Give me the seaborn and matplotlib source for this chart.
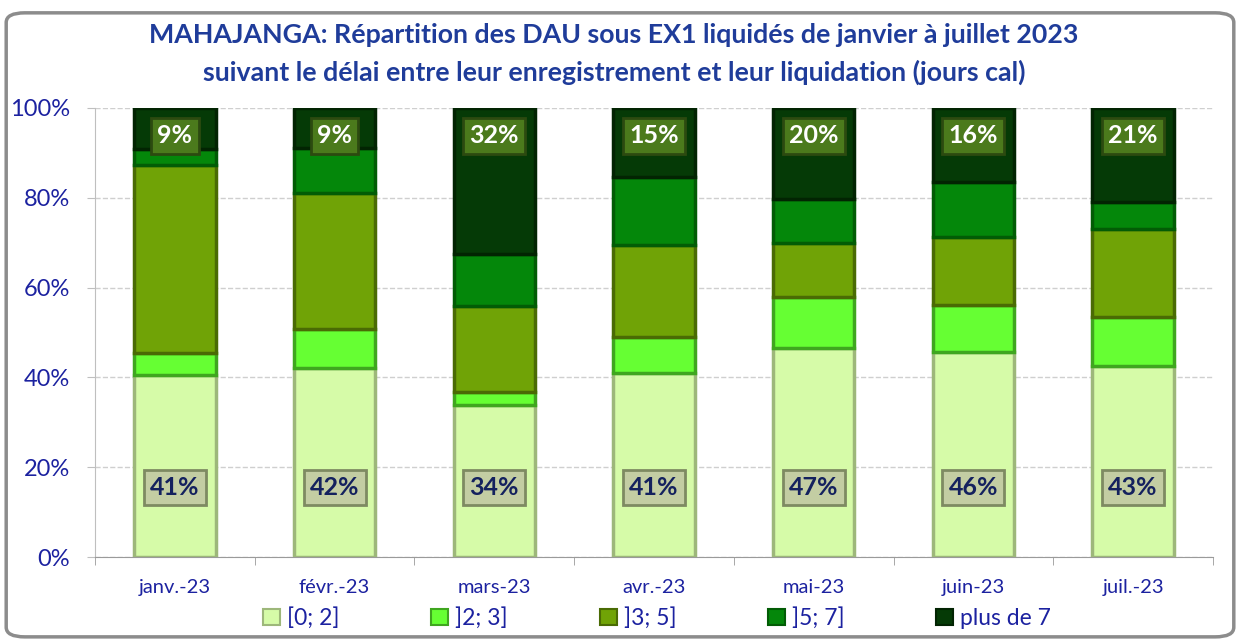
import matplotlib
matplotlib.use("Agg")
import matplotlib.pyplot as plt
from matplotlib.patches import Patch, FancyBboxPatch
from matplotlib.ticker import PercentFormatter
import seaborn as sns
import pandas as pd

# ----------------------------------------
# Data (share of DAU per delay class, %)
# ----------------------------------------

months = ["janv.-23", "févr.-23", "mars-23", "avr.-23", "mai-23", "juin-23", "juil.-23"]
classes = ["[0; 2]", "]2; 3]", "]3; 5]", "]5; 7]", "plus de 7"]

d_0_2 = [40.6, 42.0, 33.9, 41.0, 46.6, 45.6, 42.6]
d_2_3 = [4.8, 8.7, 2.9, 8.1, 11.4, 10.5, 10.9]
d_3_5 = [42.0, 30.3, 19.2, 20.4, 11.9, 15.2, 19.6]
d_5_7 = [3.4, 10.2, 11.5, 15.1, 9.8, 12.3, 6.0]
d_7p = [9.2, 8.8, 32.5, 15.4, 20.3, 16.4, 20.9]

colors = ["#D6FBA8", "#66FF33", "#70A306", "#04870A", "#053A06"]
edges = ["#9DB77A", "#3FA61F", "#4A6B04", "#025C05", "#022402"]

# ----------------------------------------
# Stacked bars
# ----------------------------------------

sns.set_style("white")
plt.rcParams["font.family"] = ["Lato", "DejaVu Sans"]

navy = "#1C22A0"
df = pd.DataFrame({"Mois": months, classes[0]: d_0_2, classes[1]: d_2_3,
                   classes[2]: d_3_5, classes[3]: d_5_7, classes[4]: d_7p})

fig = plt.figure(figsize=(12.4, 6.42), dpi=100)
ax = fig.add_axes([95 / 1240, 1 - 557 / 642, (1213 - 95) / 1240, (557 - 108) / 642])

frame = FancyBboxPatch((0.005, 0.008), 0.99, 0.972, boxstyle="round,pad=0,rounding_size=0.015",
                       transform=fig.transFigure, facecolor="white", edgecolor="#8C8C8C",
                       linewidth=2.5, zorder=-10)
fig.patches.append(frame)

bottom = [0.0] * len(months)
for cls, col, ec in zip(classes, colors, edges):
    sns.barplot(data=df, x="Mois", y=cls, color=col, saturation=1, bottom=bottom, width=0.51,
                edgecolor=ec, linewidth=2.5, ax=ax, zorder=3)
    bottom = [b + v for b, v in zip(bottom, df[cls])]

# value labels for the first and last classes
for i in range(len(months)):
    ax.text(i, 15.5, f"{d_0_2[i]:.0f}%", ha="center", va="center", fontsize=18,
            fontweight="bold", color="#14215E", zorder=5,
            bbox=dict(boxstyle="square,pad=0.25", facecolor="#C3CDA3", edgecolor="#7E8A62", linewidth=2))
    ax.text(i, 93.8, f"{d_7p[i]:.0f}%", ha="center", va="center", fontsize=18,
            fontweight="bold", color="white", zorder=5,
            bbox=dict(boxstyle="square,pad=0.25", facecolor="#4B7A1C", edgecolor="#2C4A10", linewidth=2))

ax.set_ylim(0, 100)
ax.set_xlim(-0.5, 6.5)
ax.yaxis.set_major_formatter(PercentFormatter(decimals=0))
ax.set_yticks([0, 20, 40, 60, 80, 100])
ax.set_xticks([i + 0.5 for i in range(-1, 7)], minor=True)
ax.grid(axis="y", linestyle="--", color="#CFCFCF", linewidth=1, zorder=0)
ax.set_axisbelow(True)
ax.set_xlabel("")
ax.set_ylabel("")
ax.tick_params(axis="y", which="major", left=True, labelsize=17, labelcolor=navy,
               length=6, color="#BFBFBF", pad=12)
ax.tick_params(axis="x", which="major", labelsize=14.5, labelcolor=navy, length=0, pad=16)
ax.tick_params(axis="x", which="minor", bottom=True, length=6, color="#9A9A9A")
for s in ["top", "right"]:
    ax.spines[s].set_visible(False)
ax.spines["left"].set_color("#BFBFBF")
ax.spines["bottom"].set_color("#9A9A9A")

title_color = "#1F3C9A"
fig.text(0.495, 0.945, "MAHAJANGA: Répartition des DAU sous EX1 liquidés de janvier à juillet 2023",
         ha="center", va="center", fontsize=19.3, fontweight="bold", color=title_color)
fig.text(0.495, 0.888, "suivant le délai entre leur enregistrement et leur liquidation (jours cal)",
         ha="center", va="center", fontsize=19.3, fontweight="bold", color=title_color)

handles = [Patch(facecolor=c, edgecolor=e, linewidth=1.5) for c, e in zip(colors, edges)]
fig.legend(handles, classes, loc="center left", bbox_to_anchor=(263 / 1240, 1 - 618 / 642),
           ncol=5, frameon=False, borderpad=0, borderaxespad=0,
           fontsize=16.5, labelcolor=navy, handlelength=0.75, handleheight=0.75,
           handletextpad=0.3, columnspacing=4.0)

fig.savefig("out.png", dpi=100)
